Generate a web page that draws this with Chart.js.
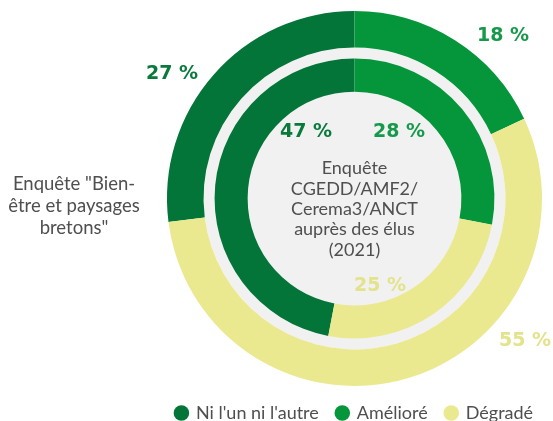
<!DOCTYPE html>
<html lang="fr">
<head>
<meta charset="utf-8">
<title>Évolution des paysages</title>
<script src="https://cdn.jsdelivr.net/npm/chart.js@4/dist/chart.umd.min.js"></script>
<style>
  html, body { margin: 0; padding: 0; background: #fff; }
  #chart { display: block; }
</style>
</head>
<body>
<canvas id="chart" width="553" height="421"></canvas>
<script>
// Categories and the two surveys (percentages)
const categories = ["Ni l'un ni l'autre", 'Amélioré', 'Dégradé'];
const bienEtre = [27, 18, 55];   // outer ring
const cgedd = [47, 28, 25];      // inner ring
const bienEtreTitle = ['Enquête "Bien-', 'être et paysages', 'bretons"'];
const cgeddTitle = ['Enquête', 'CGEDD/AMF2/', 'Cerema3/ANCT', 'auprès des élus', '(2021)'];

const colors = ['#047538', '#05963b', '#ebe98f'];
const labelColors = ['#0a7a3c', '#16994a', '#e2e38b'];
const panelGrey = '#f1f1f1';
const textGrey = '#4f4f4f';
const legendHeight = 35;

// where each percentage sits: [angle from top (deg), distance in outer radii]
const outerLabelPos = [[-55.8, 1.177], [42.5, 1.172], [130, 1.187]];
const innerLabelPos = [[-36.3, 0.437], [34, 0.425], [163.8, 0.489]];

// start so that the first category ends at 12 o'clock
const startAngle = vals => -vals[0] / vals.reduce((a, b) => a + b, 0) * 360;

// keep the legend a single compact row under the rings
const compactLegend = {
    id: 'compactLegend',
    beforeLayout(chart) {
        const legend = chart.legend;
        if (!legend || legend._compact) return;
        const fit = legend.fit;
        legend.fit = function () {
            fit.call(this);
            this.height = legendHeight;
        };
        legend._compact = true;
    }
};

const decorations = {
    id: 'decorations',
    beforeDatasetsDraw(chart) {
        const arc = chart.getDatasetMeta(0).data[0];
        const ctx = chart.ctx;
        ctx.save();
        ctx.fillStyle = panelGrey;
        ctx.beginPath();
        ctx.arc(arc.x, arc.y, arc.innerRadius, 0, Math.PI * 2);
        ctx.fill();
        ctx.restore();
    },
    afterDatasetsDraw(chart) {
        const arc = chart.getDatasetMeta(0).data[0];
        const cx = arc.x, cy = arc.y, R = arc.outerRadius;
        const ctx = chart.ctx;
        ctx.save();
        ctx.textAlign = 'center';
        ctx.textBaseline = 'middle';

        // percentage labels
        ctx.font = 'bold 19px "DejaVu Sans"';
        const drawPct = (vals, pos) => {
            vals.forEach((v, i) => {
                const a = pos[i][0] * Math.PI / 180;
                const d = pos[i][1] * R;
                ctx.fillStyle = labelColors[i];
                ctx.fillText(v + ' %', cx + d * Math.sin(a), cy - d * Math.cos(a));
            });
        };
        drawPct(bienEtre, outerLabelPos);
        drawPct(cgedd, innerLabelPos);

        // survey names
        ctx.fillStyle = textGrey;
        ctx.font = '18px Lato';
        cgeddTitle.forEach((line, i) => {
            ctx.fillText(line, cx, cy - 30 + i * 20.3);
        });
        ctx.font = '18.5px Lato';
        bienEtreTitle.forEach((line, i) => {
            ctx.fillText(line, 74, cy - 14 + i * 22);
        });
        ctx.restore();
    }
};

new Chart(document.getElementById('chart'), {
    type: 'doughnut',
    data: {
        labels: categories,
        datasets: [{
            label: 'Enquête "Bien-être et paysages bretons"',
            data: bienEtre,
            backgroundColor: colors,
            rotation: startAngle(bienEtre),
            weight: 36.5
        }, {
            // empty ring between the two surveys
            label: '',
            data: [1],
            backgroundColor: 'rgba(0,0,0,0)',
            weight: 11
        }, {
            label: 'Enquête CGEDD/AMF2/Cerema3/ANCT auprès des élus (2021)',
            data: cgedd,
            backgroundColor: colors,
            rotation: startAngle(cgedd),
            weight: 33
        }]
    },
    options: {
        responsive: false,
        animation: false,
        cutout: '57%',
        borderWidth: 0,
        layout: {
            padding: { left: 156, right: 0, top: 11, bottom: 0 }
        },
        plugins: {
            tooltip: { enabled: false },
            legend: {
                position: 'bottom',
                labels: {
                    usePointStyle: true,
                    pointStyle: 'circle',
                    boxWidth: 11,
                    boxHeight: 11,
                    padding: 18,
                    color: textGrey,
                    font: { family: 'Lato', size: 18 }
                }
            }
        }
    },
    plugins: [compactLegend, decorations]
});
</script>
</body>
</html>
